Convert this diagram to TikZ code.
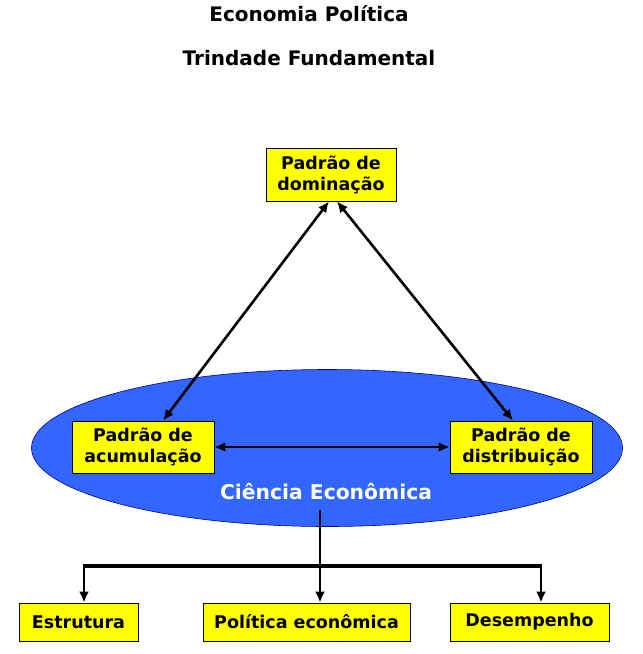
\documentclass[tikz,border=0pt]{standalone}
\usepackage{fontspec}
\setmainfont{DejaVu Sans}
\usetikzlibrary{arrows.meta,shapes.geometric}
\definecolor{ybox}{RGB}{255,255,0}
\definecolor{eblue}{RGB}{51,102,255}
\begin{document}
\begin{tikzpicture}[x=1pt,y=-1pt,
  ybox/.style={draw=black,line width=0.8pt,fill=ybox,inner sep=0pt,align=center,font=\bfseries\fontsize{17.5}{21}\selectfont},
  conn/.style={line width=2.8pt,-{Latex[length=11pt,width=10pt]}},
  dconn/.style={line width=2.6pt,{Latex[length=11pt,width=10pt]}-{Latex[length=11pt,width=10pt]}},
  ttl/.style={font=\bfseries\fontsize{20}{24}\selectfont}]
\useasboundingbox (0,0) rectangle (643,654);
\node[ttl] (t1) at (309,14) {Economia Política};
\node[ttl] (t2) at (309,58) {Trindade Fundamental};
\node[ellipse,draw=blue!60!black,line width=0.6pt,fill=eblue,minimum width=591pt,minimum height=157pt,inner sep=0pt] (ell) at (327,448) {};
\node[font=\bfseries\fontsize{20.3}{24}\selectfont,text=white] (ce) at (326,492) {Ciência Econômica};
\node[ybox,minimum width=130pt,minimum height=53pt] (dom) at (331,174.5) {Padrão de\\dominação};
\node[ybox,minimum width=142pt,minimum height=52pt] (acu) at (143,447) {Padrão de\\acumulação};
\node[ybox,minimum width=142pt,minimum height=52pt] (dis) at (521,447) {Padrão de\\distribuição};
\node[ybox,minimum width=119pt,minimum height=38pt] (est) at (78.5,622) {Estrutura};
\node[ybox,minimum width=207pt,minimum height=38pt] (pol) at (306.5,622) {Política econômica};
\node[ybox,minimum width=159pt,minimum height=38pt] (des) at (529.5,622) {Desempenho};
\draw[dconn] ([xshift=-2pt]dom.south) -- ([xshift=20pt]acu.north);
\draw[dconn] ([xshift=6pt]dom.south) -- ([xshift=-8pt]dis.north);
\draw[dconn] (acu.east) -- (dis.west);
\coordinate (top) at (320,510);
\coordinate (mid) at (320,566);
\coordinate (bl) at (84,566);
\coordinate (br) at (541,566);
\draw[line width=2.8pt] (top) -- (mid);
\draw[line width=4.5pt] ([xshift=-1.4pt]bl) -- ([xshift=1.4pt]br);
\draw[conn] (bl) -- (bl |- est.north);
\draw[conn] (mid) -- (mid |- pol.north);
\draw[conn] (br) -- (br |- des.north);
\end{tikzpicture}
\end{document}
